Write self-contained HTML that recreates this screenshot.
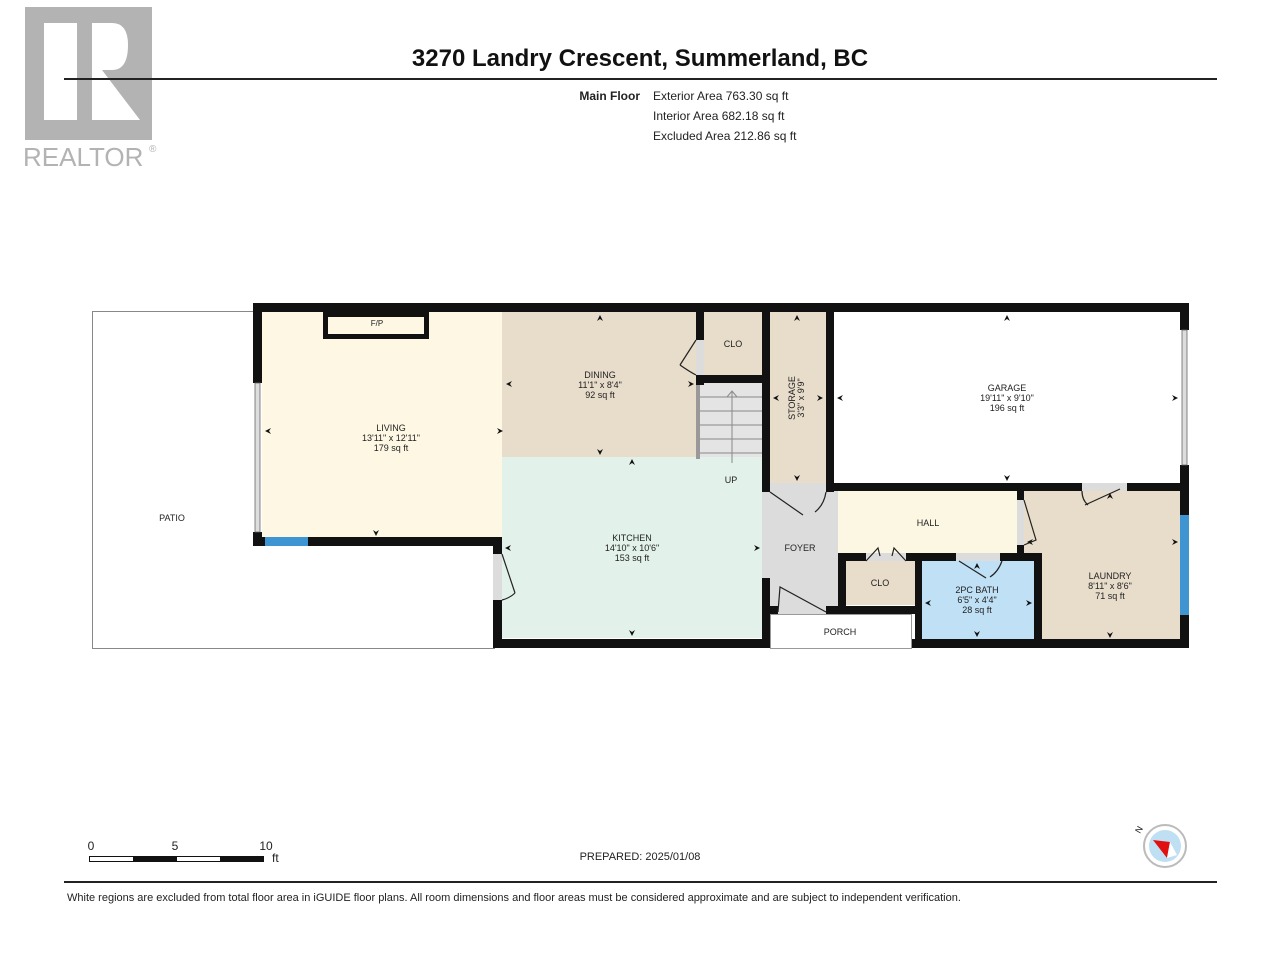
<!DOCTYPE html>
<html><head><meta charset="utf-8"><style>
html,body{margin:0;padding:0;background:#fff;}
svg{display:block;font-family:"Liberation Sans",Arial,sans-serif;}
</style></head><body>
<svg width="1280" height="960" viewBox="0 0 1280 960" xmlns="http://www.w3.org/2000/svg">
<!-- logo -->
<rect x="25" y="7" width="127" height="133" fill="#b3b3b3"/>
<rect x="44" y="23" width="33" height="97" fill="#fff"/>
<path d="M92 23 H112 Q128 23 128 45 Q128 70 112 70 H102 L140 120 H92 Z" fill="#fff"/>
<text x="23" y="166" font-size="26" fill="#b3b3b3">REALTOR</text>
<text x="149" y="152" font-size="10" fill="#b3b3b3">®</text>
<!-- title -->
<text x="640" y="66" font-size="24" font-weight="bold" text-anchor="middle" fill="#111">3270 Landry Crescent, Summerland, BC</text>
<line x1="64" y1="79" x2="1217" y2="79" stroke="#222" stroke-width="2"/>
<text x="640" y="100" font-size="12" font-weight="bold" text-anchor="end" fill="#222">Main Floor</text>
<g font-size="12" fill="#222"><text x="653" y="100">Exterior Area 763.30 sq ft</text><text x="653" y="120">Interior Area 682.18 sq ft</text><text x="653" y="140">Excluded Area 212.86 sq ft</text></g>
<!-- patio -->
<path d="M253 311.5 H92.5 V648.5 H495" fill="none" stroke="#888" stroke-width="1"/>
<!-- room fills -->
<rect x="262" y="312" width="240" height="225" fill="#fdf7e4"/>
<rect x="502" y="312" width="195" height="145" fill="#e8dccb"/>
<rect x="704" y="312" width="58" height="63" fill="#e8dccb"/>
<rect x="700" y="383" width="62" height="84" fill="#e4e4e4"/>
<rect x="770" y="312" width="56" height="172" fill="#e8dccb"/>
<rect x="502" y="457" width="260" height="181" fill="#e2f1ea"/>
<rect x="762" y="491" width="76" height="122" fill="#dcdcdc"/>
<rect x="838" y="491" width="179" height="62" fill="#fcf7e2"/>
<rect x="1024" y="491" width="156" height="149" fill="#e8dccb"/>
<rect x="846" y="561" width="70" height="44" fill="#e8dccb"/>
<rect x="922" y="561" width="112" height="78" fill="#bfe0f5"/>
<rect x="770.5" y="614.5" width="141" height="34" fill="#fff" stroke="#999"/>
<!-- door gaps gray -->
<g fill="#dcdcdc">
<rect x="696" y="340" width="8" height="35"/>
<rect x="493" y="554" width="9" height="46"/>
<rect x="770" y="483" width="56" height="8"/>
<rect x="1082" y="483" width="45" height="8"/>
<rect x="1017" y="500" width="7" height="45"/>
<rect x="956" y="553" width="44" height="8"/>
<rect x="866" y="553" width="40" height="8"/>
<rect x="778" y="606" width="48" height="8"/>
</g>
<!-- stairs -->
<g stroke="#888" stroke-width="1">
<line x1="700" y1="397" x2="762" y2="397"/><line x1="700" y1="411" x2="762" y2="411"/><line x1="700" y1="425" x2="762" y2="425"/><line x1="700" y1="439" x2="762" y2="439"/><line x1="700" y1="453" x2="762" y2="453"/>
<line x1="732" y1="392" x2="732" y2="463"/><polyline points="727,397 732,391 737,397" fill="none"/>
</g>
<rect x="696" y="385" width="4" height="74" fill="#999"/>
<!-- walls -->
<g fill="#111">
<rect x="253" y="303" width="936" height="9"/>
<rect x="253" y="303" width="9" height="80"/>
<rect x="253" y="532" width="9" height="14"/>
<rect x="253" y="537" width="248" height="9"/>
<rect x="493" y="537" width="9" height="17"/>
<rect x="493" y="600" width="9" height="48"/>
<rect x="493" y="639" width="277" height="9"/>
<rect x="323" y="312" width="106" height="5"/>
<rect x="323" y="312" width="5" height="27"/>
<rect x="424" y="312" width="5" height="27"/>
<rect x="323" y="334" width="106" height="5"/>
<rect x="696" y="312" width="8" height="28"/>
<rect x="696" y="375" width="66" height="8"/>
<rect x="696" y="375" width="8" height="10"/>
<rect x="762" y="312" width="8" height="180"/>
<rect x="826" y="312" width="8" height="180"/>
<rect x="826" y="483" width="256" height="8"/>
<rect x="1127" y="483" width="62" height="8"/>
<rect x="1180" y="303" width="9" height="27"/>
<rect x="1180" y="465" width="9" height="50"/>
<rect x="1180" y="615" width="9" height="33"/>
<rect x="762" y="578" width="8" height="70"/>
<rect x="762" y="606" width="16" height="8"/>
<rect x="826" y="606" width="96" height="8"/>
<rect x="838" y="553" width="8" height="61"/>
<rect x="838" y="553" width="28" height="8"/>
<rect x="906" y="553" width="50" height="8"/>
<rect x="1000" y="553" width="42" height="8"/>
<rect x="1017" y="491" width="7" height="9"/>
<rect x="1017" y="545" width="7" height="16"/>
<rect x="915" y="553" width="7" height="95"/>
<rect x="1034" y="553" width="8" height="95"/>
<rect x="912" y="639" width="277" height="9"/>
</g>
<!-- windows -->
<rect x="265" y="537" width="43" height="9" fill="#3f95d2"/>
<rect x="1180" y="515" width="9" height="100" fill="#3f95d2"/>
<rect x="255" y="383" width="5" height="149" fill="#ddd" stroke="#666" stroke-width="0.8"/>
<rect x="1182" y="330" width="5" height="135" fill="#ddd" stroke="#666" stroke-width="0.8"/>
<!-- doors -->
<g fill="none" stroke="#222" stroke-width="1.2">
<path d="M696 340 L680 365 M696 375 Q690 372 680 365"/>
<path d="M502 554 L515 593 M502 600 Q510 598 515 593"/>
<path d="M770 492 L803 515 M826 492 Q824 505 815 512"/>
<path d="M778 612 L780 587 L826 612"/>
<path d="M1024 500 L1036 540 L1024 545"/>
<path d="M1085 505 L1120 489 M1082 491 Q1082 500 1088 505"/>
<path d="M959 561 L986 578 M1002 561 Q998 572 990 577"/>
<path d="M866 561 L878 548 L880 556 M906 561 L894 548 L892 556"/>
</g>
<!-- labels -->
<g font-size="9" fill="#222" text-anchor="middle">
<text x="377" y="326" font-size="8">F/P</text>
<text x="391" y="431">LIVING</text><text x="391" y="441">13'11" x 12'11"</text><text x="391" y="451">179 sq ft</text>
<text x="600" y="378">DINING</text><text x="600" y="388">11'1" x 8'4"</text><text x="600" y="398">92 sq ft</text>
<text x="733" y="347">CLO</text>
<text x="731" y="483">UP</text>
<text x="632" y="541">KITCHEN</text><text x="632" y="551">14'10" x 10'6"</text><text x="632" y="561">153 sq ft</text>
<text x="800" y="551">FOYER</text>
<text x="172" y="521">PATIO</text>
<text x="1007" y="391">GARAGE</text><text x="1007" y="401">19'11" x 9'10"</text><text x="1007" y="411">196 sq ft</text>
<text x="928" y="526">HALL</text>
<text x="880" y="586">CLO</text>
<text x="977" y="593">2PC BATH</text><text x="977" y="603">6'5" x 4'4"</text><text x="977" y="613">28 sq ft</text>
<text x="1110" y="579">LAUNDRY</text><text x="1110" y="589">8'11" x 8'6"</text><text x="1110" y="599">71 sq ft</text>
<text x="840" y="635">PORCH</text>
<text transform="translate(795,398) rotate(-90)">STORAGE</text>
<text transform="translate(804,398) rotate(-90)">3'3" x 9'9"</text>
</g>
<!-- dimension arrowheads -->
<g fill="#111">
<path d="M265 431 l6 -3 l-2 3 l2 3z"/><path d="M503 431 l-6 -3 l2 3 l-2 3z"/>
<path d="M376 536 l-3 -6 l3 2 l3 -2z"/>
<path d="M506 384 l6 -3 l-2 3 l2 3z"/><path d="M694 384 l-6 -3 l2 3 l-2 3z"/>
<path d="M600 315 l-3 6 l3 -2 l3 2z"/><path d="M600 455 l-3 -6 l3 2 l3 -2z"/>
<path d="M632 459 l-3 6 l3 -2 l3 2z"/><path d="M632 636 l-3 -6 l3 2 l3 -2z"/>
<path d="M505 548 l6 -3 l-2 3 l2 3z"/><path d="M760 548 l-6 -3 l2 3 l-2 3z"/>
<path d="M797 315 l-3 6 l3 -2 l3 2z"/><path d="M797 481 l-3 -6 l3 2 l3 -2z"/>
<path d="M773 398 l6 -3 l-2 3 l2 3z"/><path d="M823 398 l-6 -3 l2 3 l-2 3z"/>
<path d="M837 398 l6 -3 l-2 3 l2 3z"/><path d="M1178 398 l-6 -3 l2 3 l-2 3z"/>
<path d="M1007 315 l-3 6 l3 -2 l3 2z"/><path d="M1007 481 l-3 -6 l3 2 l3 -2z"/>
<path d="M925 603 l6 -3 l-2 3 l2 3z"/><path d="M1032 603 l-6 -3 l2 3 l-2 3z"/>
<path d="M977 563 l-3 6 l3 -2 l3 2z"/><path d="M977 637 l-3 -6 l3 2 l3 -2z"/>
<path d="M1027 542 l6 -3 l-2 3 l2 3z"/><path d="M1178 542 l-6 -3 l2 3 l-2 3z"/>
<path d="M1110 493 l-3 6 l3 -2 l3 2z"/><path d="M1110 638 l-3 -6 l3 2 l3 -2z"/>
</g>
<!-- scale -->
<g font-size="12" fill="#222">
<text x="91" y="850" text-anchor="middle">0</text><text x="175" y="850" text-anchor="middle">5</text><text x="266" y="850" text-anchor="middle">10</text><text x="272" y="862">ft</text>
</g>
<rect x="89.5" y="856.5" width="174" height="5" fill="#fff" stroke="#111"/>
<rect x="133" y="856" width="44" height="6" fill="#111"/>
<rect x="220" y="856" width="44" height="6" fill="#111"/>
<text x="640" y="860" font-size="11" text-anchor="middle" fill="#222">PREPARED: 2025/01/08</text>
<!-- compass -->
<circle cx="1165" cy="846" r="21" fill="#fff" stroke="#bbb" stroke-width="2"/>
<circle cx="1165" cy="846" r="16" fill="#bfdff2"/>
<path d="M1153 840 L1170 842 L1167 858 Z" fill="#e01010"/>
<path d="M1170 842 L1167 858 L1177 855 Z" fill="#fff"/>
<text x="1140" y="834" font-size="9" fill="#222" transform="rotate(-60 1140 834)">N</text>
<line x1="64" y1="882" x2="1217" y2="882" stroke="#222" stroke-width="2"/>
<text x="67" y="901" font-size="11" fill="#222">White regions are excluded from total floor area in iGUIDE floor plans. All room dimensions and floor areas must be considered approximate and are subject to independent verification.</text>
</svg>
</body></html>
